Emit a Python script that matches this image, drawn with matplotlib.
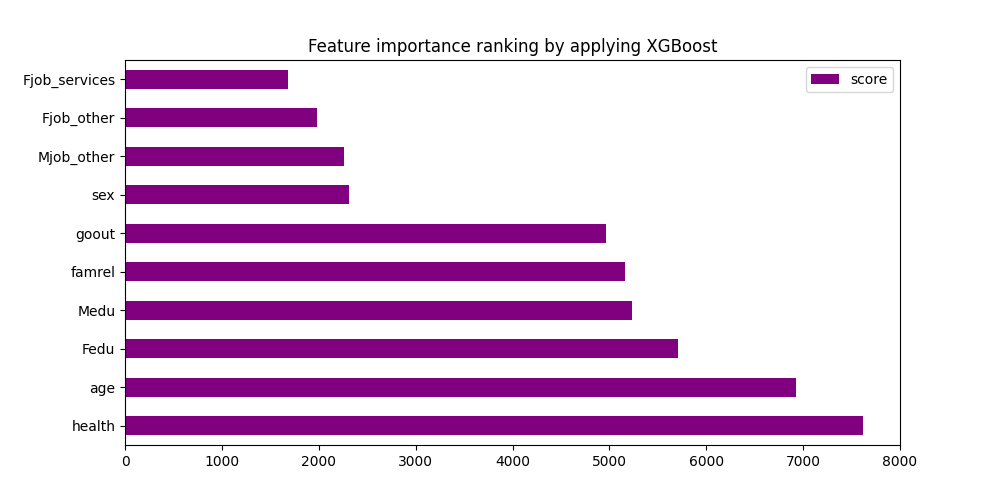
import matplotlib
matplotlib.use("Agg")
import matplotlib.pyplot as plt
import pandas as pd

features = ["health", "age", "Fedu", "Medu", "famrel", "goout", "sex", "Mjob_other", "Fjob_other", "Fjob_services"]
scores = [7620, 6925, 5705, 5230, 5158, 4962, 2315, 2264, 1985, 1685]

df = pd.DataFrame({"score": scores}, index=features)
fig, ax = plt.subplots(figsize=(10, 5), dpi=100)
df.plot(kind="barh", ax=ax, color="purple")
ax.set_title("Feature importance ranking by applying XGBoost")
ax.set_xlim(0, 8000)
fig.savefig("out.png")
